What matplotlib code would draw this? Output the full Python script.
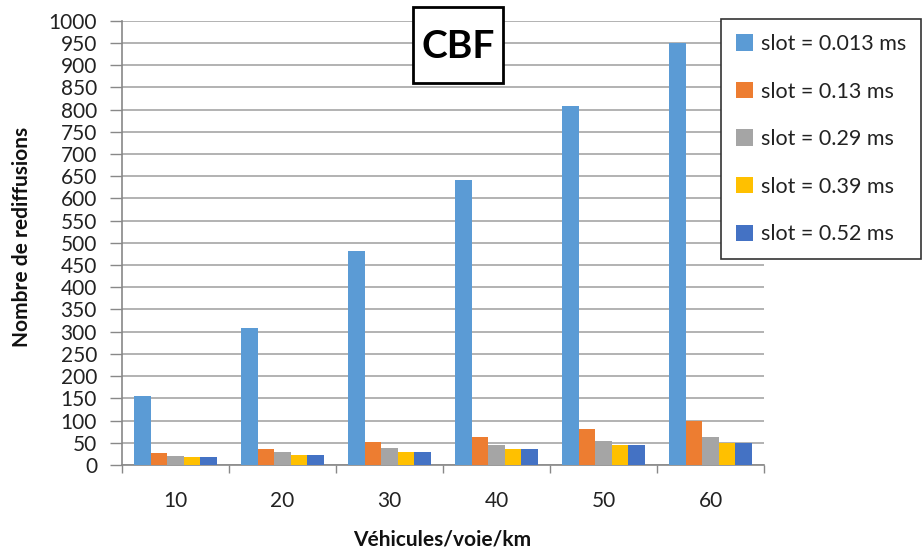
import numpy as np
import matplotlib.pyplot as plt
from matplotlib.patches import Rectangle

plt.rcParams['font.family'] = ['Lato', 'DejaVu Sans']

densite = ['10', '20', '30', '40', '50', '60']
series = ['slot = 0.013 ms', 'slot = 0.13 ms', 'slot = 0.29 ms', 'slot = 0.39 ms', 'slot = 0.52 ms']
slot_0013 = [155, 309, 481, 641, 807, 950]
slot_013 = [26, 35, 51, 64, 81, 99]
slot_029 = [21, 29, 38, 46, 55, 64]
slot_039 = [18, 23, 29, 35, 44, 50]
slot_052 = [18, 23, 29, 35, 44, 50]
couleurs = ['#5B9BD5', '#ED7D31', '#A5A5A5', '#FFC000', '#4472C4']

W, H = 922, 556
fig = plt.figure(figsize=(W / 100, H / 100), dpi=100)
ax = fig.add_axes([122 / W, 1 - 465 / H, (764 - 122) / W, (465 - 20.7) / H])

valeurs = [slot_0013, slot_013, slot_029, slot_039, slot_052]
x = np.arange(len(densite))
larg = 1 / 6.5
for i, (v, c, nom) in enumerate(zip(valeurs, couleurs, series)):
    ax.bar(x - 2 * larg + i * larg, v, width=larg, color=c, label=nom, zorder=3)

ax.set_xlim(-0.5, len(densite) - 0.5)
ax.set_ylim(0, 1000)
ax.set_yticks(np.arange(0, 1001, 50))
ax.tick_params(axis='y', labelsize=15, length=9, width=1, color='#888888', pad=9, labelcolor='#222222')
ax.yaxis.grid(True, color='#A6A6A6', lw=1.2, zorder=0)

# labels au centre, graduations entre les categories
ax.set_xticks(x)
ax.set_xticklabels(densite)
ax.set_xticks(np.arange(-0.5, len(densite)), minor=True)
ax.tick_params(axis='x', which='major', length=0, labelsize=15, pad=19, labelcolor='#222222')
ax.tick_params(axis='x', which='minor', length=6, width=1, color='#888888')

for s in ['top', 'right']:
    ax.spines[s].set_visible(False)
for s in ['left', 'bottom']:
    ax.spines[s].set_color('#888888')
    ax.spines[s].set_linewidth(1.2)

fig.text(442 / W, 1 - 539 / H, 'Véhicules/voie/km', fontsize=15, fontweight='bold',
         ha='center', va='center', color='#111111')
fig.text(22 / W, 1 - 237 / H, 'Nombre de rediffusions', fontsize=15, fontweight='bold',
         ha='center', va='center', rotation=90, color='#111111')

# cadre du titre
fig.patches.append(Rectangle((413 / W, 1 - 83 / H), 90 / W, 76 / H, transform=fig.transFigure,
                             facecolor='white', edgecolor='black', lw=2, zorder=5))
fig.text(458 / W, 1 - 46 / H, 'CBF', fontsize=28, fontweight='bold', ha='center', va='center',
         zorder=6)

leg = fig.legend(loc='upper left', bbox_to_anchor=(721 / W, 1 - 19 / H), fontsize=15.5,
                 frameon=True, fancybox=False, edgecolor='#333333', framealpha=1,
                 handlelength=0.8, handleheight=0.8, handletextpad=0.35, labelspacing=1.28,
                 borderpad=0.7, borderaxespad=0, labelcolor='#222222')
leg.get_frame().set_linewidth(1.2)

fig.savefig('out.png', dpi=100)
